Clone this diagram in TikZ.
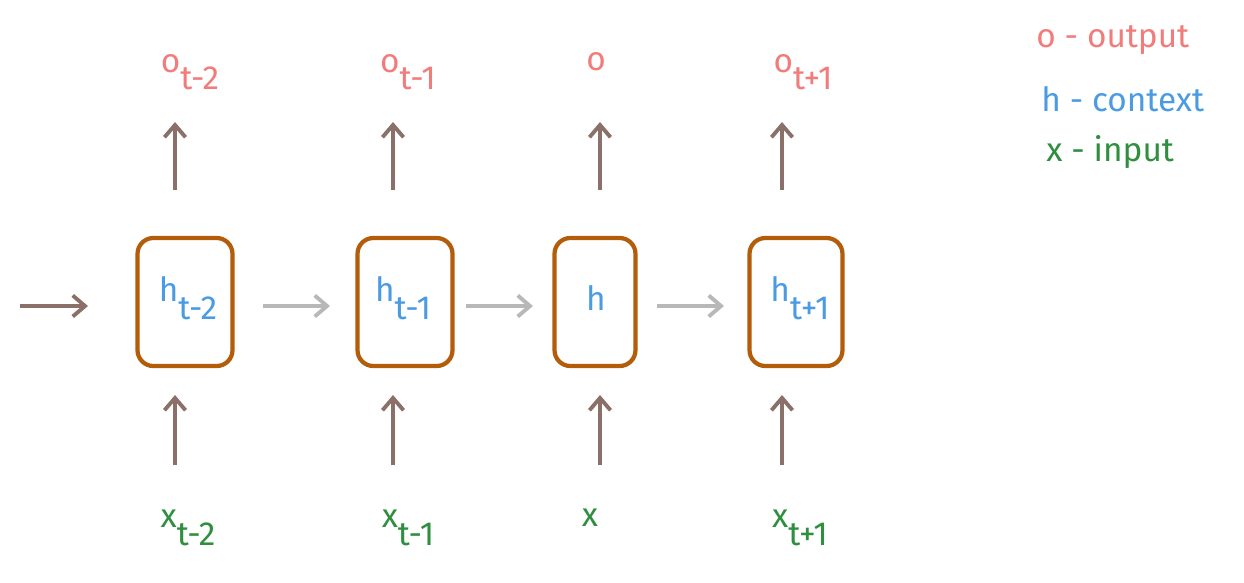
\documentclass[tikz,border=0pt]{standalone}
\usepackage{fontspec}
\setmainfont{Fira Sans}
\usetikzlibrary{arrows.meta}
\begin{document}
\begin{tikzpicture}[x=0.02cm,y=-0.02cm,
  box/.style={draw=boxc,line width=2.4pt,rounded corners=9pt,minimum width=1.9cm,minimum height=2.56cm,inner sep=0pt},
  va/.style={draw=varr,line width=2.2pt,-{Straight Barb[length=7pt,width=12pt]}},
  ha/.style={draw=harr,line width=2.2pt,-{Straight Barb[length=7pt,width=12pt]}},
  ot/.style={text=outc,font=\fontsize{19}{22}\selectfont,inner sep=0pt},
  ht/.style={text=hc,font=\fontsize{19}{22}\selectfont,inner sep=0pt},
  xt/.style={text=xc,font=\fontsize{19}{22}\selectfont,inner sep=0pt}]
\definecolor{boxc}{HTML}{B35C0A}
\definecolor{varr}{HTML}{8A7068}
\definecolor{harr}{HTML}{B8B8B8}
\definecolor{outc}{HTML}{F27C7C}
\definecolor{hc}{HTML}{4A9BE2}
\definecolor{xc}{HTML}{2F8F3F}
\useasboundingbox (0,0) rectangle (1244,582);
\newcommand{\mysub}[1]{\raisebox{-10pt}{#1}}
% boxes
\node[box] (b1) at (185,302) {};
\node[box,minimum width=1.9cm] (b2) at (405,302) {};
\node[box,minimum width=1.62cm] (b3) at (595,302) {};
\node[box,minimum width=1.86cm] (b4) at (796,302) {};
\node[ht] (h1) at (188,298) {h\mysub{t-2}};
\node[ht] (h2) at (403,298) {h\mysub{t-1}};
\node[ht] (h3) at (596,298) {h};
\node[ht] (h4) at (800,298) {h\mysub{t+1}};
% outputs
\node[ot] (o1) at (190,72) {o\mysub{t-2}};
\node[ot] (o2) at (408,72) {o\mysub{t-1}};
\node[ot] (o3) at (596,62) {o};
\node[ot] (o4) at (803,72) {o\mysub{t+1}};
% inputs
\node[xt] (x1) at (188,528) {x\mysub{t-2}};
\node[xt] (x2) at (408,528) {x\mysub{t-1}};
\node[xt] (x3) at (590,518) {x};
\node[xt] (x4) at (800,528) {x\mysub{t+1}};
% arrows
\foreach \n/\x in {1/175,2/393,3/600,4/782}{
  \coordinate (ua\n) at (\x,190); \coordinate (ub\n) at (\x,122);
  \coordinate (la\n) at (\x,465); \coordinate (lb\n) at (\x,395);
  \draw[va] (ua\n) -- (ub\n);
  \draw[va] (la\n) -- (lb\n);
}
\coordinate (s0) at (20,306); \coordinate (s1) at (88,306);
\draw[va] (s0) -- (s1);
\coordinate (p1) at (263,306); \coordinate (q1) at (330,306);
\coordinate (p2) at (466,306); \coordinate (q2) at (533,306);
\coordinate (p3) at (657,306); \coordinate (q3) at (724,306);
\draw[ha] (p1) -- (q1);
\draw[ha] (p2) -- (q2);
\draw[ha] (p3) -- (q3);
% legend
\node[ot,anchor=west] (l1) at (1036,40) {o - output};
\node[ht,anchor=west] (l2) at (1041,99) {h - context};
\node[xt,anchor=west] (l3) at (1046,152) {x - input};
\end{tikzpicture}
\end{document}
